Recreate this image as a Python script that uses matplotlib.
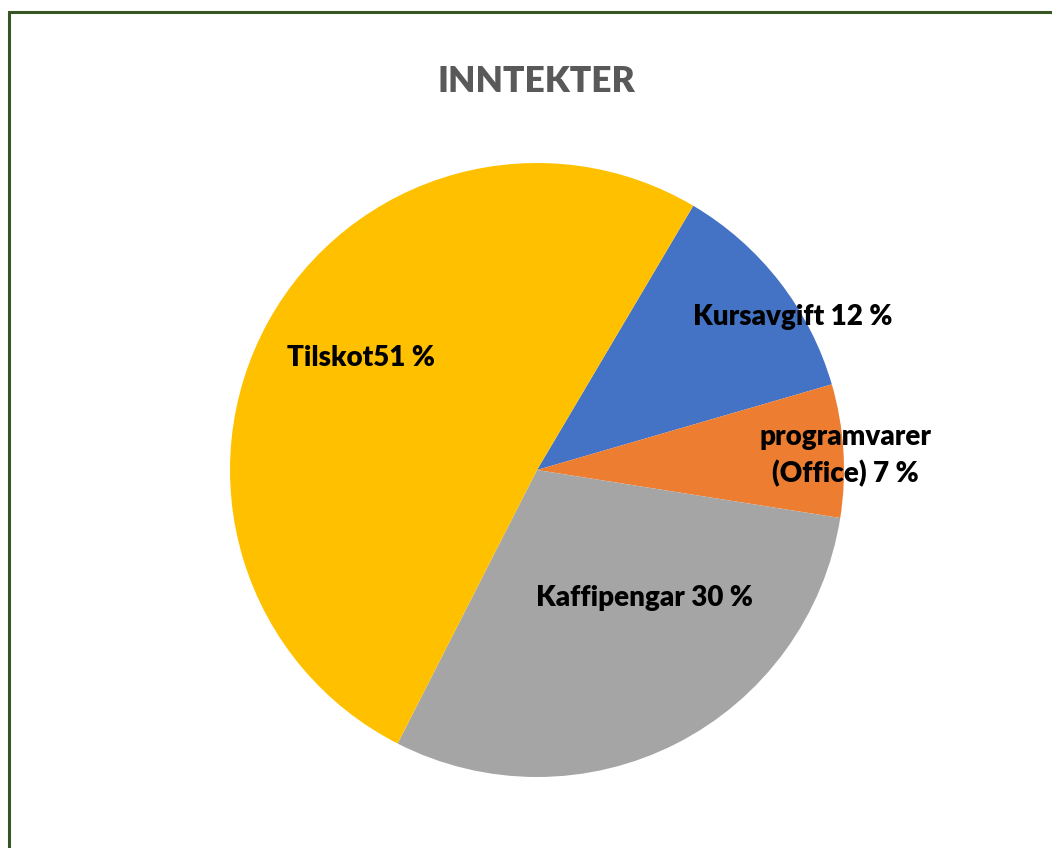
import numpy as np
import matplotlib
matplotlib.use("Agg")
import matplotlib.pyplot as plt
from matplotlib.patches import Rectangle

# data (clockwise from the top)
categories = ["Kursavgift", "programvarer\n(Office)", "Kaffipengar", "Tilskot"]
shares = [12, 7, 30, 51]
label_texts = ["Kursavgift 12 %", "programvarer\n(Office) 7 %", "Kaffipengar 30 %", "Tilskot51 %"]
colors = ["#4472C4", "#ED7D31", "#A5A5A5", "#FFC000"]

# label placement (radius fraction, angle shift in degrees) - Excel "best fit" look
label_pos = [(0.97, -6.8), (1.005, -0.9), (0.545, 13.2), (0.68, -3.5)]

plt.rcParams["font.family"] = ["Lato", "DejaVu Sans"]

fig = plt.figure(figsize=(10.52, 8.48), dpi=100)
ax = fig.add_axes([(537 - 307) / 1052, (848 - 777) / 848, 614 / 1052, 614 / 848])

start = 59.4
wedges, _ = ax.pie(shares, colors=colors, startangle=start, counterclock=False,
                   radius=1.0, wedgeprops=dict(linewidth=0))
ax.set_xlim(-1, 1)
ax.set_ylim(-1, 1)
ax.axis("off")

for w, txt, (rf, dang) in zip(wedges, label_texts, label_pos):
    mid = np.deg2rad((w.theta1 + w.theta2) / 2 + dang)
    ax.text(rf * np.cos(mid), rf * np.sin(mid), txt, ha="center", va="center",
            fontsize=20, fontweight="heavy", color="black", linespacing=1.45)

fig.text(536 / 1052, 1 - 81 / 848, "INNTEKTER", ha="center", va="center",
         fontsize=25.5, fontweight="heavy", color="#595959")

# dark green frame
fig.patches.append(Rectangle((9 / 1052, -0.05), 1.2, 1 - 12 / 848 + 0.05,
                             transform=fig.transFigure, fill=False,
                             edgecolor="#375623", linewidth=2.2))

fig.savefig("out.png", dpi=100)
